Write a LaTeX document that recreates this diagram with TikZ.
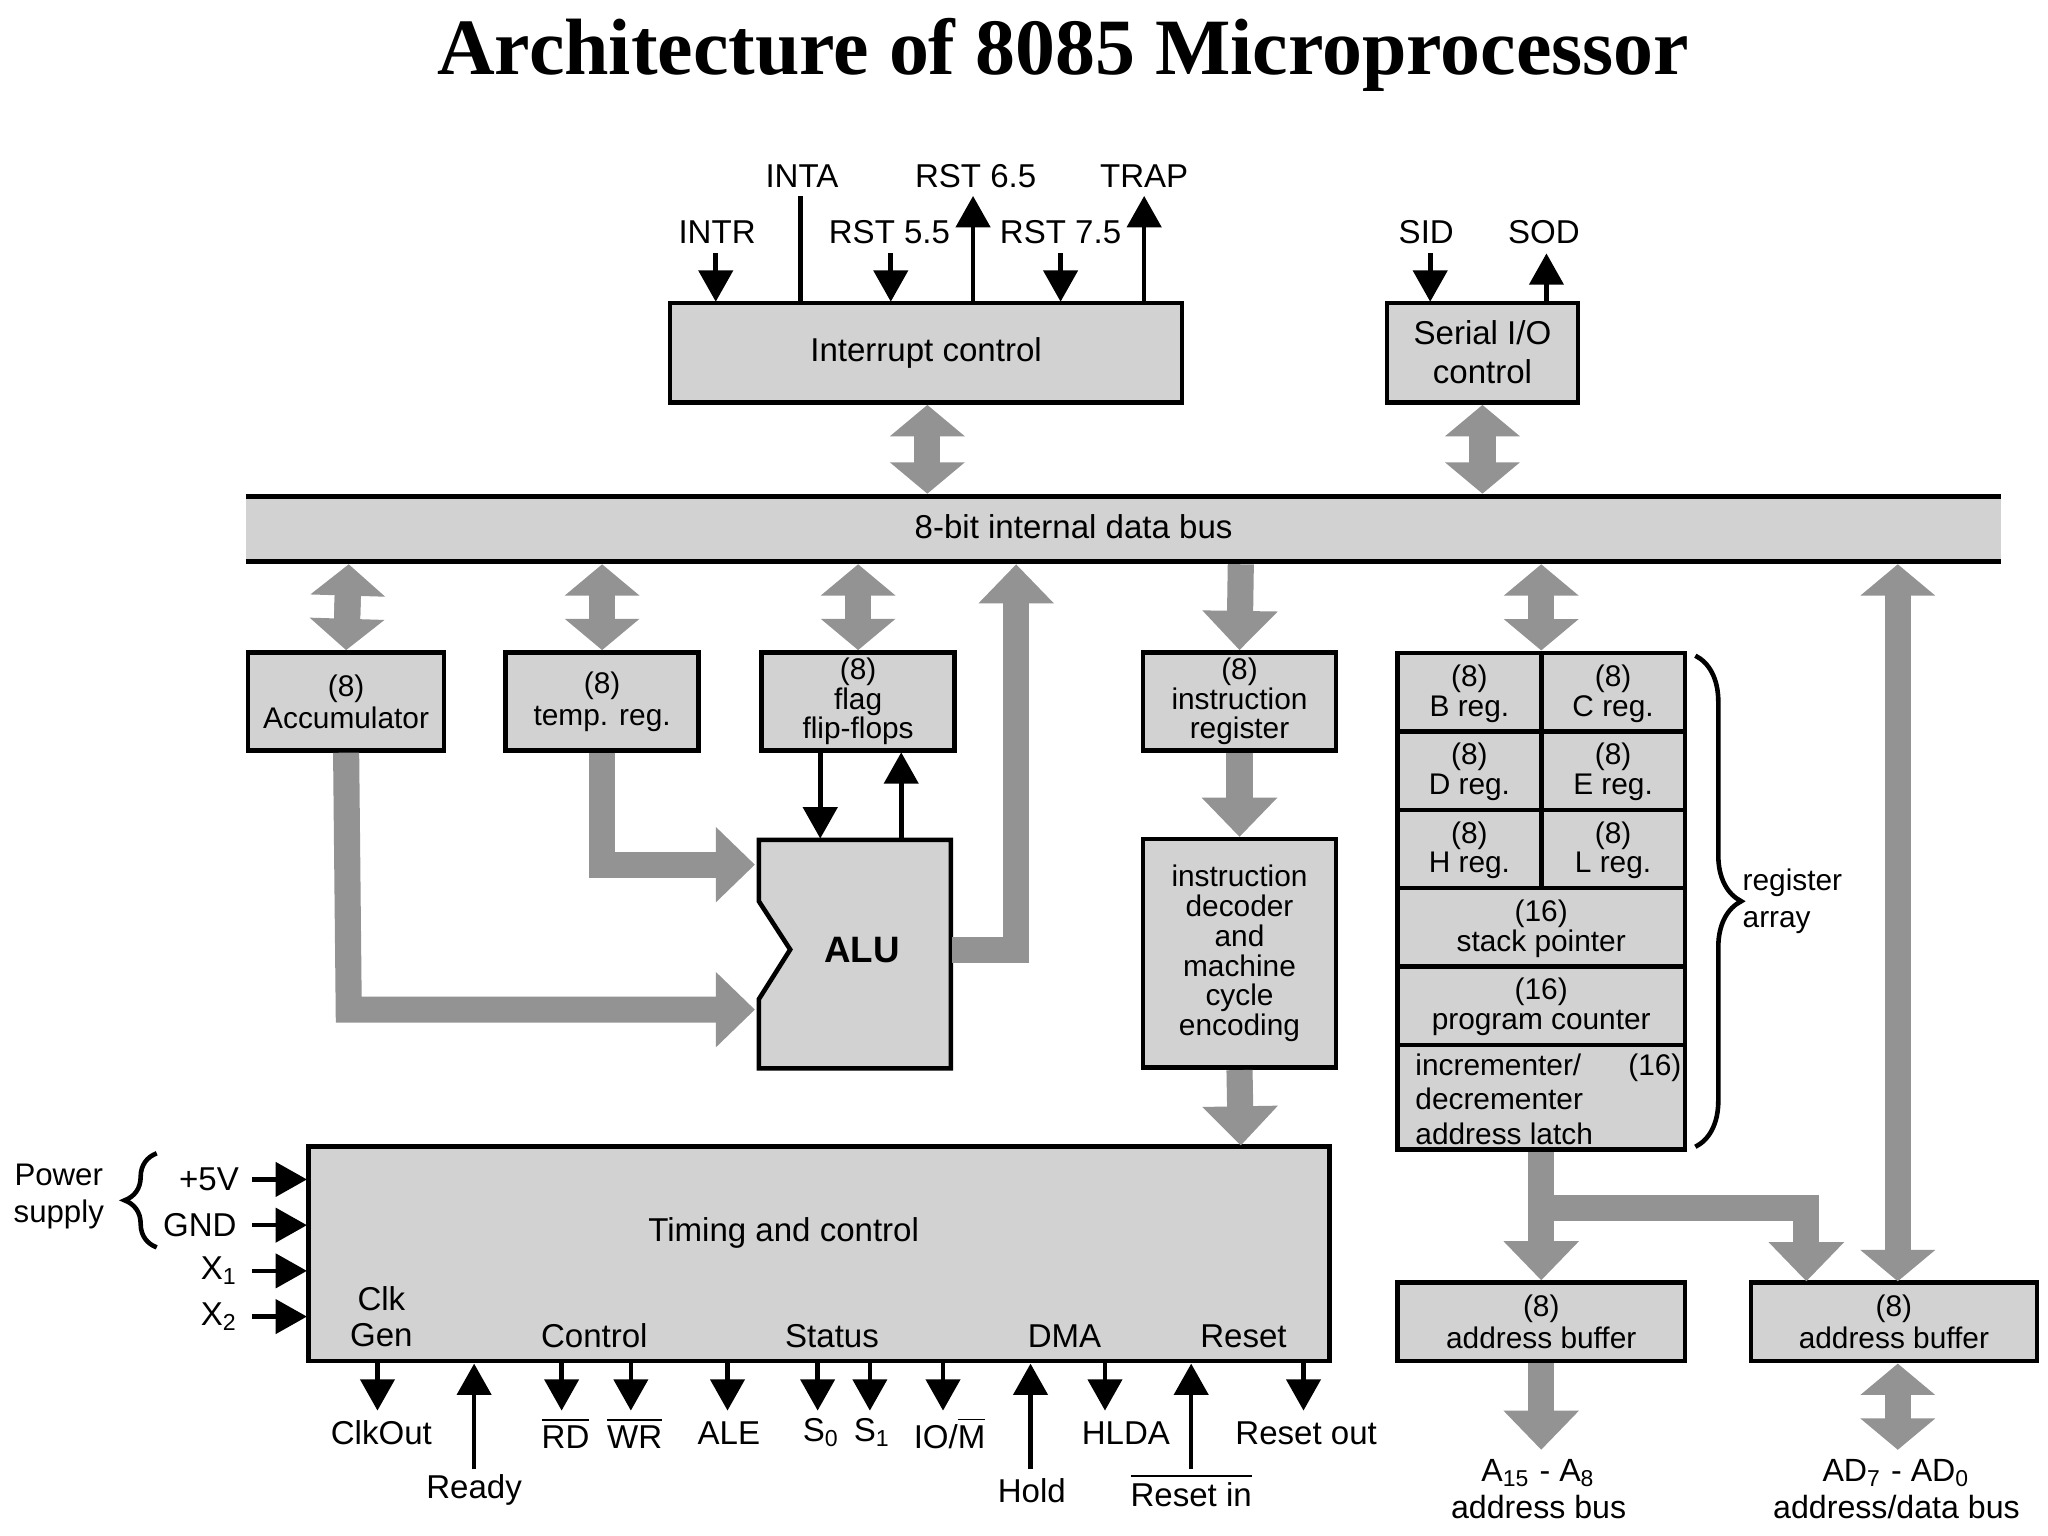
\documentclass[tikz,border=0pt]{standalone}
\usepackage{fontspec}
\setmainfont{Liberation Sans}
\newfontfamily\titlefont{Liberation Serif}
\usetikzlibrary{arrows.meta,decorations.pathreplacing}
\begin{document}
\begin{tikzpicture}[x=0.1mm,y=-0.1mm,
  box/.style={draw=black,line width=1pt,fill=gray!35,inner sep=0pt,align=center,font=\fontsize{6.5}{7}\selectfont},
  lab/.style={font=\fontsize{7.2}{8}\selectfont,inner sep=1pt},
  pin/.style={line width=1pt,-{Triangle[width=2.6mm,length=2.4mm]}},
  garrow/.style={draw=gray!85,line width=2mm,-{Triangle[width=5.6mm,length=3mm]}},
  gdouble/.style={draw=gray!85,line width=2mm,
    preaction={draw=gray!85,line width=2mm,-,shorten <=2.5mm,shorten >=2.5mm},
    {Triangle[width=5.6mm,length=2.4mm]}-{Triangle[width=5.6mm,length=2.4mm]}}]
\useasboundingbox (0,0) rectangle (1568,1176);
\fill[white] (0,0) rectangle (1568,1176);
\node[font=\titlefont\bfseries\fontsize{17.4}{18}\selectfont] (title) at (814,42) {Architecture of 8085 Microprocessor};

% interrupt and serial
\node[box,minimum width=39.2mm,minimum height=7.6mm,font=\fontsize{7.2}{8}\selectfont] (int) at (709,270) {Interrupt control};
\node[box,minimum width=14.6mm,minimum height=7.6mm,font=\fontsize{7.2}{8.5}\selectfont] (ser) at (1135,270) {Serial I/O\\control};
\node[lab] (intr) at (549,178) {INTR};
\node[lab] (inta) at (614,135) {INTA};
\node[lab] (r55) at (681,178) {RST 5.5};
\node[lab] (r65) at (747,135) {RST 6.5};
\node[lab] (r75) at (812,178) {RST 7.5};
\node[lab] (trap) at (876,135) {TRAP};
\node[lab] (sid) at (1092,178) {SID};
\node[lab] (sod) at (1182,178) {SOD};
\draw[pin] (548,194) -- (548,231);
\draw[line width=1pt] (613,150) -- (613,231);
\draw[pin] (682,194) -- (682,231);
\draw[pin] (745,231) -- (745,150);
\draw[pin] (812,194) -- (812,231);
\draw[pin] (876,231) -- (876,150);
\draw[pin] (1095,194) -- (1095,231);
\draw[pin] (1184,231) -- (1184,194);

% bus
\fill[gray!35] (188,380) rectangle (1532,430);
\draw[line width=1.2pt] (188,380) -- (1532,380) (188,430) -- (1532,430);
\node[lab] (bus) at (822,403) {8-bit internal data bus};
\draw[gdouble] (710,310) -- (710,378);
\draw[gdouble] (1135,310) -- (1135,378);

% registers
\node[box,minimum width=15mm,minimum height=7.5mm] (acc) at (265,537) {(8)\\Accumulator};
\node[box,minimum width=14.8mm,minimum height=7.5mm] (tmp) at (461,537) {(8)\\temp. reg.};
\node[box,minimum width=14.8mm,minimum height=7.5mm,font=\fontsize{6.5}{6.5}\selectfont] (flag) at (657,537) {(8)\\flag\\flip-flops};
\node[box,minimum width=14.8mm,minimum height=7.5mm,font=\fontsize{6.5}{6.5}\selectfont] (ir) at (949,537) {(8)\\instruction\\register};
\node[box,minimum width=14.8mm,minimum height=17.5mm,font=\fontsize{6.5}{6.5}\selectfont] (dec) at (949,730) {instruction\\decoder\\and\\machine\\cycle\\encoding};
\draw[gdouble] (267,432) -- (acc.north);
\draw[gdouble] (461,432) -- (tmp.north);
\draw[gdouble] (657,432) -- (flag.north);
\draw[garrow] (950,432) -- (ir.north);
\draw[garrow] (ir.south) -- (dec.north);

% ALU
\draw[line width=1pt,fill=gray!35] (581,643) -- (728,643) -- (728,818) -- (581,818) -- (581,765) -- (605,727) -- (581,690) -- cycle;
\node[font=\bfseries\fontsize{8}{9}\selectfont] (alu) at (660,727) {ALU};
\coordinate (aluin1) at (578,662);
\coordinate (aluin2) at (578,773);
\draw[pin] (628,576) -- (628,642);
\draw[pin] (690,642) -- (690,576);
\draw[garrow] (tmp.south) -- (461,662) -- (aluin1);
\draw[garrow] (acc.south) -- (267,773) -- (aluin2);
\draw[garrow] (729,727) -- (778,727) -- (778,432);

% register array
\begin{scope}[line width=1pt]
\fill[gray!35] (1070,500) rectangle (1290,880);
\draw (1070,500) rectangle (1290,880);
\foreach \y in {560,620,680,740,800} \draw (1070,\y) -- (1290,\y);
\draw (1180,500) -- (1180,680);
\end{scope}
\begin{scope}[font=\fontsize{6.5}{6.5}\selectfont,align=center]
\node (b) at (1125,531) {(8)\\B reg.};
\node (c) at (1235,531) {(8)\\C reg.};
\node (d) at (1125,591) {(8)\\D reg.};
\node (e) at (1235,591) {(8)\\E reg.};
\node (h) at (1125,651) {(8)\\H reg.};
\node (l) at (1235,651) {(8)\\L reg.};
\node (sp) at (1180,711) {(16)\\stack pointer};
\node (pc) at (1180,771) {(16)\\program counter};
\node[align=left,anchor=north west,inner sep=0pt] (inc) at (1083,806) {incrementer/\\[1pt]decrementer\\[1pt]address latch};
\node[anchor=north east,inner sep=0pt] (i16) at (1288,806) {(16)};
\end{scope}
\draw[line width=1pt,decorate,decoration={brace,amplitude=10pt}] (1298,502) -- (1298,878);
\node[lab,align=left,anchor=west,font=\fontsize{6.5}{8}\selectfont] (ra) at (1330,690) {register\\array};
\draw[gdouble] (1180,432) -- (1180,498);

% address buffers
\node[box,minimum width=22mm,minimum height=6mm] (ab1) at (1180,1012) {(8)\\address buffer};
\node[box,minimum width=21.9mm,minimum height=6mm] (ab2) at (1450,1012) {(8)\\address buffer};
\draw[garrow] (1180,882) -- (ab1.north);
\draw[garrow] (1180,925) -- (1383,925) -- (1383,981);
\draw[gdouble] (1453,432) -- (1453,981);
\node[lab,align=center,font=\fontsize{7}{8}\selectfont] (abus) at (1178,1140) {A\textsubscript{15} - A\textsubscript{8}\\address bus};
\node[lab,align=center,font=\fontsize{7}{8}\selectfont] (adbus) at (1452,1140) {AD\textsubscript{7} - AD\textsubscript{0}\\address/data bus};
\draw[garrow] (ab1.south) -- (1180,1110);
\draw[gdouble] (1453,1044) -- (1453,1110);

% timing and control
\node[box,minimum width=78.2mm,minimum height=16.4mm] (tc) at (627,960) {};
\draw[garrow] (dec.south) -- (950,877);
\node[lab] (tct) at (600,944) {Timing and control};
\node[lab,align=center] (clk) at (292,1008) {Clk\\Gen};
\node[lab] (ctl) at (455,1023) {Control};
\node[lab] (sta) at (637,1023) {Status};
\node[lab] (dma) at (815,1023) {DMA};
\node[lab] (rst) at (952,1023) {Reset};

\node[lab,align=center,font=\fontsize{6.8}{8}\selectfont] (pwr) at (45,916) {Power\\supply};
\draw[line width=1pt,decorate,decoration={brace,amplitude=7pt}] (120,955) -- (120,883);
\node[lab] (v5) at (160,903) {+5V};
\node[lab] (gnd) at (153,938) {GND};
\node[lab] (x1) at (168,973) {X\textsubscript{1}};
\node[lab] (x2) at (168,1008) {X\textsubscript{2}};
\foreach \y in {903,938,973,1008} \draw[pin] (193,\y) -- (235,\y);

\foreach \x in {289,430,483,557,626,666,722,846,998} \draw[pin] (\x,1043) -- (\x,1080);
\foreach \x in {363,789,912} \draw[pin] (\x,1125) -- (\x,1044);
\node[lab] (co) at (292,1097) {ClkOut};
\node[lab] (rdy) at (363,1141) {Ready};
\node[lab] (rd) at (433,1097) {$\overline{\mbox{RD}}$};
\node[lab] (wr) at (486,1097) {$\overline{\mbox{WR}}$};
\node[lab] (ale) at (558,1097) {ALE};
\node[lab] (s0) at (629,1097) {S\textsubscript{0}};
\node[lab] (s1) at (668,1097) {S\textsubscript{1}};
\node[lab] (iom) at (727,1097) {IO/$\overline{\mbox{M}}$};
\node[lab] (hold) at (790,1141) {Hold};
\node[lab] (hlda) at (862,1097) {HLDA};
\node[lab] (rin) at (912,1141) {$\overline{\mbox{Reset in}}$};
\node[lab] (rout) at (1000,1097) {Reset out};
\end{tikzpicture}
\end{document}
